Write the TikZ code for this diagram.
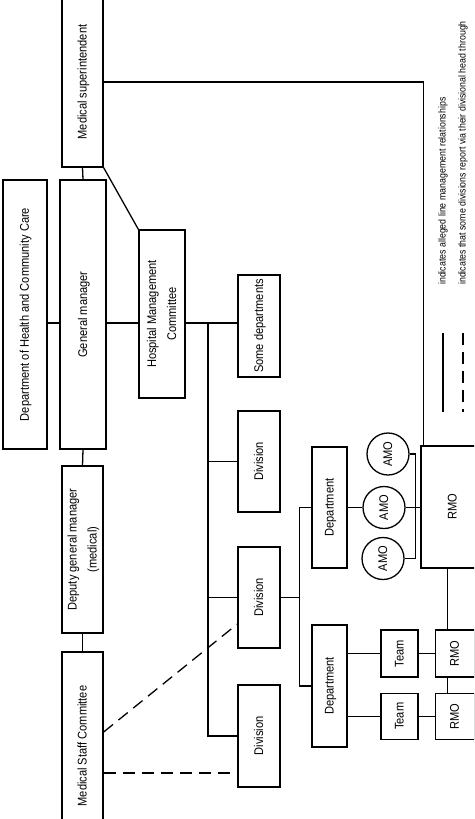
\documentclass[tikz,border=0pt]{standalone}
\usepackage{fontspec}
\setmainfont{Liberation Sans}[FakeStretch=0.88]
\usetikzlibrary{calc,positioning}

\newcommand{\vtext}[1]{\rotatebox{90}{\begin{tabular}{@{}c@{}}#1\end{tabular}}}

\begin{document}
\begin{tikzpicture}[
  x=1pt, y=-1pt,
  font=\fontsize{12.6}{20}\selectfont,
  box/.style 2 args={draw,line width=1.3pt,inner sep=0pt,minimum width=#1,minimum height=#2},
  amo/.style={draw,circle,line width=1.3pt,inner sep=0pt,minimum size=42pt},
  link/.style={line width=1.3pt},
  dashlink/.style={line width=1.3pt,dash pattern=on 12pt off 7pt},
  legend/.style={rotate=90,anchor=west,inner sep=0pt,font=\fontsize{10}{20}\selectfont}
]
  \useasboundingbox (0,0) rectangle (474,819);
  \clip (0,0) rectangle (474,819);

  % top levels
  \node[box={41pt}{170pt}] (ms) at (82.5,82) {\vtext{Medical superintendent}};
  \node[box={44pt}{269pt}] (doh) at (25,314.5) {\vtext{Department of Health and Community Care}};
  \node[box={46pt}{269pt}] (gm) at (83,314.5) {\vtext{General manager}};
  \node[box={41pt}{167pt}] (dgm) at (82.5,549.5) {\vtext{Deputy general manager\\(medical)}};
  \node[box={41pt}{188pt}] (msc) at (82.5,746) {\vtext{Medical Staff Committee}};
  \node[box={46pt}{168pt}] (hmc) at (162,314) {\vtext{Hospital Management\\Committee}};

  % divisions
  \node[box={42pt}{102pt}] (somedep) at (259,326) {\vtext{Some departments}};
  \node[box={42pt}{101pt}] (div1) at (259,461.5) {\vtext{Division}};
  \node[box={42pt}{101pt}] (div2) at (259,597.5) {\vtext{Division}};
  \node[box={42pt}{102pt}] (div3) at (259,736) {\vtext{Division}};

  % departments and staff
  \node[box={35pt}{121pt}] (dep1) at (329.5,507.5) {\vtext{Department}};
  \node[box={35pt}{122pt}] (dep2) at (329.5,686) {\vtext{Department}};
  \node[amo] (amo1) at (388,454) {\vtext{AMO}};
  \node[amo] (amo2) at (384,507.5) {\vtext{AMO}};
  \node[amo] (amo3) at (383,558.5) {\vtext{AMO}};
  \node[box={63pt}{122pt}] (rmo) at (452.5,507) {\vtext{RMO}};
  \node[box={37pt}{47pt}] (team1) at (399.5,653.5) {\vtext{Team}};
  \node[box={37pt}{46pt}, below=15pt of team1] (team2) {\vtext{Team}};
  \node[box={39pt}{47pt}, right=16pt of team1] (rmo1) {\vtext{RMO}};
  \node[box={39pt}{46pt}, below=15pt of rmo1] (rmo2) {\vtext{RMO}};

  % line management
  \coordinate (hq) at (0,323);
  \coordinate (trunk) at (208,0);
  \draw[link] (doh.east |- hq) -- (gm.west |- hq);
  \draw[link] (gm.east |- hq) -- (hmc.west |- hq);
  \draw[link] (hmc.east |- hq) -- (somedep.west |- hq);
  \draw[link] (trunk |- hq) |- (div3.west);
  \draw[link] (trunk |- div1) -- (div1.west);
  \draw[link] (trunk |- div2) -- (div2.west);
  \draw[link] (ms.south) -- (gm.north);
  \draw[link] (ms.south east) -- (hmc.north west);
  \draw[link] (gm.south) -- (dgm.north);
  \draw[link] (dgm.south) -- (msc.north);
  \draw[link] (ms.east) -| ([xshift=3pt]rmo.north west);
  \draw[link] (div2.east) -- ++(19,0) coordinate (split);
  \draw[link] (dep1.west) -| (split) |- (dep2.west);
  \draw[link] (dep1.east) -- (amo2.west);
  \draw[link] (amo2.east) -- (rmo.west |- amo2);
  \draw[link] (amo1.east) -| ($(amo2.east)+(10,0)$) |- (amo3.east);
  \draw[link] ([xshift=-7pt]rmo1.north |- rmo.south) -- ([xshift=-7pt]rmo1.north);
  \draw[link] ([xshift=-7pt]rmo1.south) -- ([xshift=-7pt]rmo2.north);
  \draw[link] (team1.west -| dep2.east) -- (team1.west);
  \draw[link] (team1) -- (rmo1);
  \draw[link] (team2.west -| dep2.east) -- (team2.west);
  \draw[link] (team2) -- (rmo2);

  % via the committee
  \draw[dashlink] ($(msc.east)+(0,-14)$) -- ($(div2.west)+(0,26.5)$);
  \draw[dashlink] ($(msc.east)+(0,27)$) coordinate (low) -- (low -| div3.west);

  % key
  \node[legend] (key1) at (443,285) {indicates alleged line management relationships};
  \node[legend] (key2) at (463,285) {indicates that some divisions report via their divisional head through};
  \node[legend] (key3) at (483,285) {the Medical Staff Committee};
  \draw[link] ([yshift=-48pt]key1.west) -- ++(0,79);
  \draw[dashlink] ([yshift=-48pt]key2.west) -- ++(0,79);
\end{tikzpicture}
\end{document}
